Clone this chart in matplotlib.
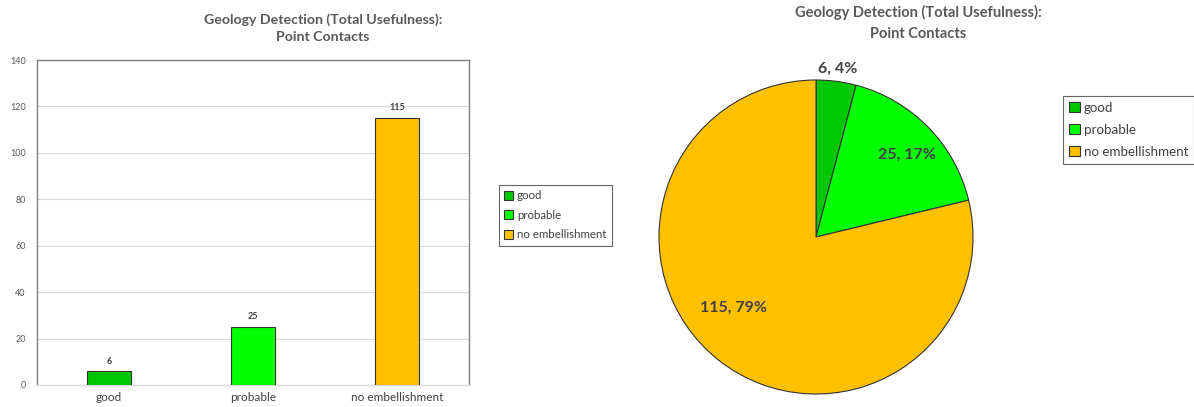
import numpy as np
import matplotlib
matplotlib.use("Agg")
import matplotlib.pyplot as plt

plt.rcParams['font.family'] = ['Lato', 'DejaVu Sans']

categories = ["good", "probable", "no embellishment"]
counts = [6, 25, 115]
colors = ["#00C800", "#00FF00", "#FFC000"]
title = "Geology Detection (Total Usefulness):\nPoint Contacts"

W, H = 1194, 407
fig = plt.figure(figsize=(W / 100, H / 100), dpi=100)
fig.patch.set_facecolor("white")

def box(x0, y0, x1, y1):
    # pixel box (top-left origin) -> figure fraction
    return [x0 / W, 1 - y1 / H, (x1 - x0) / W, (y1 - y0) / H]

grey = "#595959"
dark = "#404040"

# ---- bar chart ----
ax = fig.add_axes(box(37, 60, 469, 385))
x = np.arange(len(categories))
bars = ax.bar(x, counts, width=0.31, color=colors, edgecolor="#333333", linewidth=0.8, zorder=3)
ax.set_xlim(-0.5, len(categories) - 0.5)
ax.set_ylim(0, 140)
ax.set_yticks(np.arange(0, 141, 20))
ax.set_xticks(x)
ax.set_xticklabels(categories, fontsize=8.5, color=dark)
ax.tick_params(axis="y", length=0, labelsize=6.5, labelcolor=grey, pad=8)
ax.tick_params(axis="x", length=0, pad=5)
ax.grid(axis="y", color="#d9d9d9", linewidth=0.8, zorder=0)
for s in ax.spines.values():
    s.set_color("#808080")
    s.set_linewidth(1.0)
ax.spines["bottom"].set_color("#d9d9d9")
for b, v in zip(bars, counts):
    ax.annotate(str(v), (b.get_x() + b.get_width() / 2, v), xytext=(0, 4),
                textcoords="offset points", ha="center", va="bottom",
                fontsize=6.5, fontweight="bold", color=dark)
fig.text(323 / W, 1 - 28 / H, title, ha="center", va="center", fontsize=10.2,
         fontweight="bold", color=grey, linespacing=1.5)

handles = [plt.Rectangle((0, 0), 1, 1, facecolor=c, edgecolor="#333333", linewidth=0.8) for c in colors]
fig.legend(handles, categories, loc="upper left", bbox_to_anchor=(499 / W, 1 - 185 / H),
           borderaxespad=0, fontsize=8.3, frameon=True, fancybox=False, edgecolor="#404040",
           handlelength=0.8, handleheight=0.8, handletextpad=0.3, labelspacing=0.75,
           borderpad=0.45, labelcolor=dark).get_frame().set_linewidth(0.8)

# ---- pie chart ----
pax = fig.add_axes(box(659, 80, 973, 394))
wedges, _ = pax.pie(counts, colors=colors, startangle=90, counterclock=False,
                    wedgeprops=dict(edgecolor="#333333", linewidth=0.8))
pax.set_xlim(-1, 1)
pax.set_ylim(-1, 1)
pax.set_aspect("equal")
for w in wedges:
    w.set_clip_on(False)
total = sum(counts)
label_dist = [1.08, 0.78, 0.69]
label_shift = [0, -2, -11]
for w, v, d, sh in zip(wedges, counts, label_dist, label_shift):
    ang = np.deg2rad((w.theta1 + w.theta2) / 2 + sh)
    pax.text(d * np.cos(ang), d * np.sin(ang), f"{v}, {round(100 * v / total)}%",
             ha="center", va="center", fontsize=11.5, fontweight="bold", color=dark)
fig.text(918 / W, 1 - 23 / H, title, ha="center", va="center", fontsize=10.5,
         fontweight="bold", color=grey, linespacing=1.6)
fig.legend(handles, categories, loc="upper left", bbox_to_anchor=(1063 / W, 1 - 96 / H),
           borderaxespad=0, fontsize=9.6, frameon=True, fancybox=False, edgecolor="#404040",
           handlelength=0.8, handleheight=0.8, handletextpad=0.3, labelspacing=0.75,
           borderpad=0.45, labelcolor=dark).get_frame().set_linewidth(0.8)

fig.savefig("out.png", dpi=100, facecolor="white")
